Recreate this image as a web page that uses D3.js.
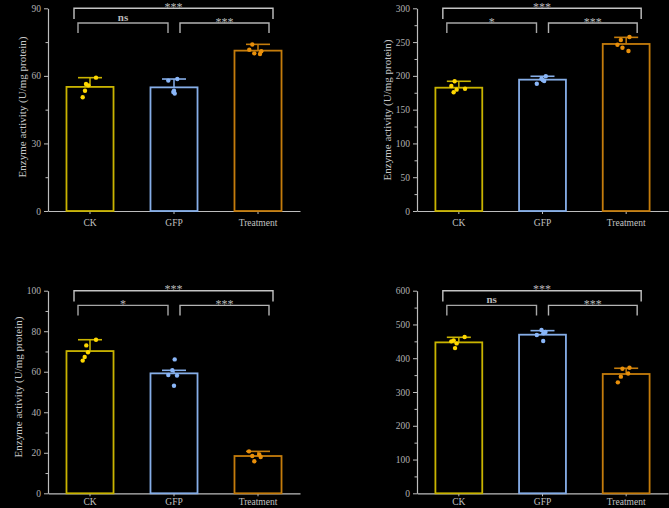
<!DOCTYPE html>
<html><head><meta charset="utf-8">
<script src="https://cdn.jsdelivr.net/npm/d3@7"></script>
<style>html,body{margin:0;padding:0;background:#000;}svg{display:block;}</style>
</head><body>
<svg id="c" width="669" height="508"></svg>
<script>
// ---------- data ----------
const categories = ["CK", "GFP", "Treatment"];
const yLabel = "Enzyme activity (U/mg protein)";

const p1Means = [55.1, 54.9, 71.2];
const p1Err = [4.1, 3.7, 2.8];
const p1Points = [[59.2, 56.4, 55.8, 53.4, 50.5], [57.9, 58.6, 53.4, 52.8, 52.2], [73.9, 71.6, 70.0, 69.7, 70.9]];
const p1Ticks = [0, 30, 60, 90];
const p1Sig = ["***", "ns", "***"];

const p2Means = [182.5, 194.4, 247.2];
const p2Err = [9.5, 5.0, 9.8];
const p2Points = [[192, 185, 181, 179.6, 175.7], [199.4, 195.8, 193.9, 192.4, 188.4], [257.5, 253, 246, 241.7, 236.8]];
const p2Ticks = [0, 50, 100, 150, 200, 250, 300];
const p2Sig = ["***", "*", "***"];

const p3Means = [70.2, 59.2, 18.4];
const p3Err = [5.6, 1.5, 2.3];
const p3Points = [[75.8, 73.0, 69.6, 67.3, 65.5], [66.1, 60.7, 58.4, 58.1, 53.1], [20.7, 19.2, 18.4, 17.9, 15.8]];
const p3Ticks = [0, 20, 40, 60, 80, 100];
const p3Sig = ["***", "*", "***"];

const p4Means = [447, 469.7, 353.3];
const p4Err = [15, 12, 17];
const p4Points = [[462.8, 453, 450, 444, 430], [483.6, 477.6, 473.7, 468.8, 451], [372, 369, 355, 345.4, 328.6]];
const p4Ticks = [0, 100, 200, 300, 400, 500, 600];
const p4Sig = ["***", "ns", "***"];

// ---------- layout / style ----------
const jitter = {
  p1: [[6, -4, -1.7, -5, -7.3], [-5.7, 3.3, 0, -0.7, 0.7], [-5.7, -8.7, -3.7, 2, 3.3]],
  p2: [[-4.2, -7.5, 6.2, -2.2, -5.2], [3.3, -1, 0.3, 1.7, -5.7], [3.3, -5.3, -8.7, -3.7, 2.3]],
  p3: [[6, -3.7, -2, -5.3, -7.3], [0.7, -1.7, -5.7, 3, 0], [-9, 1.3, -5.7, 2.7, -3.7]],
  p4: [[5.8, -5.2, -7.5, -2.2, -3.8], [-1, 3, 1, -5.7, 0.7], [3.3, -3.7, 2, -5.3, -8.3]]
};
const strokeCols = ["#c9b400", "#86aee8", "#c47c0c"];
const pointCols = ["#ffd800", "#8ab6f8", "#e88f0a"];

const panels = [
  {means: p1Means, err: p1Err, pts: p1Points, ticks: p1Ticks, sig: p1Sig, jit: jitter.p1, x0: 48, x1: 300, yTop: 8.3, yBot: 211, labelX: 26, labelY: 107, xPad: 5},
  {means: p2Means, err: p2Err, pts: p2Points, ticks: p2Ticks, sig: p2Sig, jit: jitter.p2, x0: 417, x1: 668, yTop: 8.3, yBot: 211, labelX: 391, labelY: 110, xPad: 5},
  {means: p3Means, err: p3Err, pts: p3Points, ticks: p3Ticks, sig: p3Sig, jit: jitter.p3, x0: 48, x1: 300, yTop: 290.7, yBot: 493.3, labelX: 22, labelY: 387, xPad: 1.5},
  {means: p4Means, err: p4Err, pts: p4Points, ticks: p4Ticks, sig: p4Sig, jit: jitter.p4, x0: 417, x1: 668, yTop: 290.7, yBot: 493.3, labelX: null, xPad: 1.5}
];

const svg = d3.select("#c");
svg.append("rect").attr("width", 669).attr("height", 508).attr("fill", "#000");
const FONT = "'Liberation Serif', 'Times New Roman', serif";
const axisCol = "#bdbdbd";

panels.forEach(p => {
  const g = svg.append("g");
  const yMax = p.ticks[p.ticks.length - 1];
  const x = d3.scaleBand().domain(categories).range([p.x0, p.x1]).paddingInner(0.44).paddingOuter(0.22);
  const y = d3.scaleLinear().domain([0, yMax]).range([p.yBot, p.yTop]);
  const step = p.ticks[1] - p.ticks[0];
  const minor = d3.range(step / 2, yMax, step);

  // minor ticks
  g.append("g").attr("transform", `translate(${p.x0},0)`)
    .call(d3.axisLeft(y).tickValues(minor).tickSize(2.5).tickFormat(""))
    .call(s => s.select(".domain").remove())
    .call(s => s.selectAll("line").attr("stroke", axisCol));
  // y axis
  const ya = g.append("g").attr("transform", `translate(${p.x0},0)`)
    .call(d3.axisLeft(y).tickValues(p.ticks).tickSize(4).tickSizeOuter(0).tickPadding(3));
  ya.select(".domain").attr("stroke", axisCol).attr("stroke-width", 1.2);
  ya.selectAll("line").attr("stroke", axisCol);
  ya.selectAll("text").attr("fill", "#b0b0b0").style("font-family", FONT).style("font-size", "9.5px");
  // x axis
  const xa = g.append("g").attr("transform", `translate(0,${p.yBot})`)
    .call(d3.axisBottom(x).tickSize(3).tickSizeOuter(0).tickPadding(p.xPad));
  xa.select(".domain").attr("stroke", axisCol).attr("stroke-width", 1.2);
  xa.selectAll("line").attr("stroke", axisCol);
  xa.selectAll("text").attr("fill", "#c0c0c0").style("font-family", FONT).style("font-size", "9.5px");

  // bars
  categories.forEach((c, i) => {
    const cx = x(c) + x.bandwidth() / 2;
    g.append("rect")
      .attr("x", x(c)).attr("y", y(p.means[i]))
      .attr("width", x.bandwidth()).attr("height", y(0) - y(p.means[i]))
      .attr("fill", "#000").attr("stroke", strokeCols[i]).attr("stroke-width", 1.8);
    // error bar (upper)
    const top = y(p.means[i] + p.err[i]);
    g.append("line").attr("x1", cx).attr("x2", cx).attr("y1", y(p.means[i])).attr("y2", top)
      .attr("stroke", strokeCols[i]).attr("stroke-width", 1.5);
    g.append("line").attr("x1", cx - 12).attr("x2", cx + 12).attr("y1", top).attr("y2", top)
      .attr("stroke", strokeCols[i]).attr("stroke-width", 1.6);
    // points
    p.pts[i].forEach((v, j) => {
      g.append("circle").attr("cx", cx + p.jit[i][j]).attr("cy", y(v)).attr("r", 2.2)
        .attr("fill", pointCols[i]);
    });
  });

  // significance brackets
  const c0 = x(categories[0]) + x.bandwidth() / 2;
  const c1 = x(categories[1]) + x.bandwidth() / 2;
  const c2 = x(categories[2]) + x.bandwidth() / 2;
  const yb0 = y(yMax);
  const yb1 = yb0 + 14.7;
  const brackets = [
    {xa: c0 - 16, xb: c2 + 15, yy: yb0, leg: 10.7, col: "#c4c4c4", lab: p.sig[0]},
    {xa: c0 - 12, xb: c1 - 6, yy: yb1, leg: 10, col: "#a6a6a6", lab: p.sig[1]},
    {xa: c1 + 6, xb: c2 + 11, yy: yb1, leg: 10, col: "#b4b4b4", lab: p.sig[2]}
  ];
  brackets.forEach(b => {
    g.append("path")
      .attr("d", `M${b.xa},${b.yy + b.leg}V${b.yy}H${b.xb}V${b.yy + b.leg}`)
      .attr("fill", "none").attr("stroke", b.col).attr("stroke-width", 1.4);
    const isStar = b.lab.indexOf("*") >= 0;
    g.append("text").attr("x", (b.xa + b.xb) / 2)
      .attr("y", isStar ? b.yy + 2.5 : b.yy - 2.3)
      .attr("text-anchor", "middle").attr("fill", "#b8b8b8")
      .style("font-family", FONT).style("font-size", isStar ? "12px" : "11px")
      .style("font-weight", isStar ? "normal" : "bold")
      .text(b.lab);
  });

  // y label
  if (p.labelX !== null) {
    g.append("text")
      .attr("transform", `translate(${p.labelX},${p.labelY}) rotate(-90)`)
      .attr("text-anchor", "middle").attr("fill", "#c8c8c8")
      .style("font-family", FONT).style("font-size", "11px")
      .text(yLabel);
  }
});
</script>
</body></html>
